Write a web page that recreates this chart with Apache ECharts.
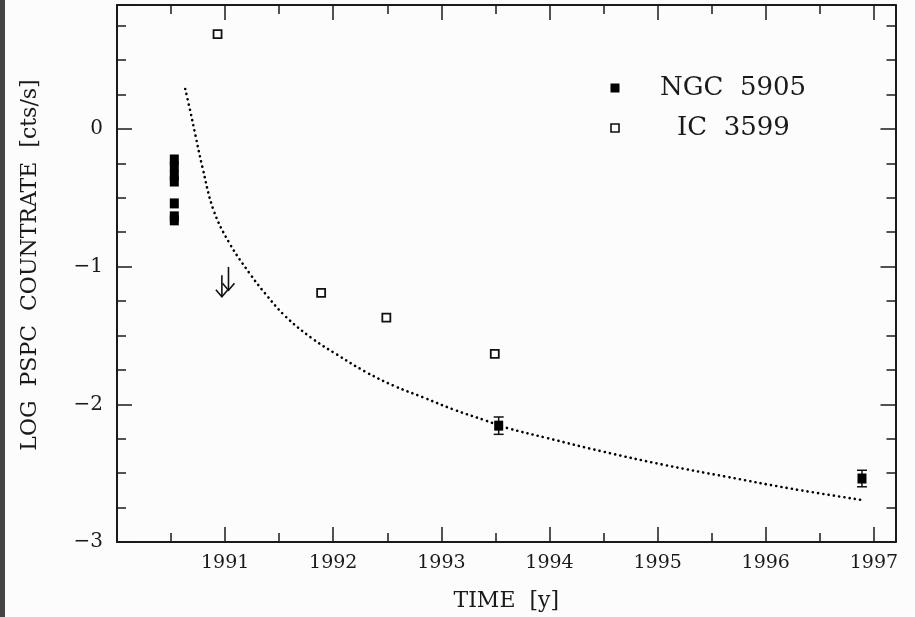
<!DOCTYPE html>
<html>
<head>
<meta charset="utf-8">
<script src="https://cdn.jsdelivr.net/npm/echarts@6/dist/echarts.min.js"></script>
<style>
html,body{margin:0;padding:0;background:#fcfcfc;}
#chart{width:915px;height:617px;}
</style>
</head>
<body>
<div id="chart"></div>
<script>
// ---- data ----
const xTicks = [1991, 1992, 1993, 1994, 1995, 1996, 1997];
const yTicks = [-3, -2, -1, 0];

// NGC 5905 detections (time [y], log countrate)
const ngcTimes  = [1990.53, 1990.53, 1990.53, 1990.53, 1990.53, 1990.53, 1990.53, 1993.53, 1996.89];
const ngcValues = [-0.222, -0.273, -0.338, -0.382, -0.541, -0.635, -0.664, -2.155, -2.539];

// NGC 5905 points carrying error bars
const errTimes  = [1993.53, 1996.89];
const errValues = [-2.155, -2.539];
const errSizes  = [0.063, 0.06];

// IC 3599 (open squares)
const icTimes  = [1990.93, 1991.888, 1992.491, 1993.494];
const icValues = [0.688, -1.19, -1.371, -1.634];

// Upper limits (arrows): time, top of shaft, arrow tip
const ulTimes = [1990.970, 1991.031];
const ulTops  = [-1.062, -1.002];
const ulTips  = [-1.219, -1.171];

// model decay curve (dotted)
const modelTimes  = [1990.631, 1990.677, 1990.725, 1990.790, 1990.893, 1991.040, 1991.232, 1991.370, 1991.555, 1991.802, 1992.033, 1992.294, 1992.562, 1992.833, 1993.116, 1993.403, 1993.609, 1993.973, 1994.481, 1995.066, 1995.636, 1996.237, 1996.898];
const modelValues = [0.290, 0.132, -0.045, -0.278, -0.590, -0.830, -1.055, -1.195, -1.359, -1.520, -1.638, -1.762, -1.866, -1.950, -2.039, -2.116, -2.172, -2.244, -2.341, -2.441, -2.526, -2.613, -2.696];

const legendNames = ['NGC 5905', 'IC 3599'];

// ---- chart ----
const INK = '#1a1a1a';
const FONT = '"DejaVu Serif", "Liberation Serif", serif';
const XMIN = 1990, XMAX = 1997.2, YMIN = -3, YMAX = 0.9;

const isInt = v => Math.abs(v - Math.round(v)) < 1e-6;
const zip = (a, b) => a.map((v, i) => [v, b[i]]);

function xAxisCfg(pos, major) {
  return {
    type: 'value', position: pos, min: XMIN, max: XMAX,
    interval: major ? 1 : 0.5,
    axisLine: { show: major, onZero: false, lineStyle: { color: INK, width: 2 } },
    axisTick: { show: true, inside: true, length: major ? 15 : 9, lineStyle: { color: INK, width: 1.5 } },
    axisLabel: {
      show: major && pos === 'bottom', margin: 12,
      fontFamily: FONT, fontSize: 19, color: INK,
      formatter: v => (isInt(v) && xTicks.indexOf(Math.round(v)) >= 0) ? String(Math.round(v)) : ''
    },
    splitLine: { show: false },
    name: (major && pos === 'bottom') ? 'TIME  [y]' : '',
    nameLocation: 'middle', nameGap: 48,
    nameTextStyle: { fontFamily: FONT, fontSize: 22, color: INK }
  };
}
function yAxisCfg(pos, major) {
  return {
    type: 'value', position: pos, min: YMIN, max: YMAX,
    interval: major ? 1 : 0.25,
    axisLine: { show: major, onZero: false, lineStyle: { color: INK, width: 2 } },
    axisTick: { show: true, inside: true, length: major ? 15 : 9, lineStyle: { color: INK, width: 1.5 } },
    axisLabel: {
      show: major && pos === 'left', margin: 14,
      fontFamily: FONT, fontSize: 20, color: INK,
      formatter: v => (isInt(v) && yTicks.indexOf(Math.round(v)) >= 0) ? String(Math.round(v)).replace('-', '\u2212') : ''
    },
    splitLine: { show: false }
  };
}

const chart = echarts.init(document.getElementById('chart'), null, { renderer: 'canvas' });

chart.setOption({
  backgroundColor: '#fcfcfc',
  animation: false,
  grid: { left: 117, right: 19.5, top: 5, bottom: 74, containLabel: false },
  xAxis: [xAxisCfg('bottom', true), xAxisCfg('bottom', false), xAxisCfg('top', true), xAxisCfg('top', false)],
  yAxis: [yAxisCfg('left', true), yAxisCfg('left', false), yAxisCfg('right', true), yAxisCfg('right', false)],
  graphic: [
    { type: 'rect', left: 0, top: 0, shape: { width: 5, height: 617 }, style: { fill: '#444' }, z: 100 },
    { type: 'text', x: 30, y: 265, rotation: Math.PI / 2,
      style: { text: 'LOG  PSPC  COUNTRATE  [cts/s]', font: '22px ' + FONT, fill: INK, align: 'center', verticalAlign: 'middle' } },
    { type: 'rect', shape: { x: 610.5, y: 83.5, width: 9, height: 9 }, style: { fill: '#000' } },
    { type: 'text', x: 660, y: 88,
      style: { text: legendNames[0].replace(' ', '  '), font: '26px ' + FONT, fill: INK, verticalAlign: 'middle' } },
    { type: 'rect', shape: { x: 611, y: 124, width: 8, height: 8 }, style: { fill: '#fff', stroke: '#111', lineWidth: 1.6 } },
    { type: 'text', x: 677, y: 128,
      style: { text: legendNames[1].replace(' ', '  '), font: '26px ' + FONT, fill: INK, verticalAlign: 'middle' } }
  ],
  series: [
    {
      name: 'model', type: 'line', xAxisIndex: 0, yAxisIndex: 0,
      data: zip(modelTimes, modelValues), smooth: 0.4, showSymbol: false, symbol: 'none',
      lineStyle: { color: '#000', width: 2.6, type: [0.1, 5.2], cap: 'round' }, z: 2
    },
    {
      name: legendNames[0], type: 'scatter', xAxisIndex: 0, yAxisIndex: 0,
      data: zip(ngcTimes, ngcValues), symbol: 'rect', symbolSize: [9, 10],
      itemStyle: { color: '#000', opacity: 1 }, z: 4
    },
    {
      name: legendNames[1], type: 'scatter', xAxisIndex: 0, yAxisIndex: 0,
      data: zip(icTimes, icValues), symbol: 'rect', symbolSize: 8,
      itemStyle: { color: '#fff', borderColor: '#111', borderWidth: 1.8, opacity: 1 }, z: 4
    },
    {
      name: 'errors', type: 'custom', xAxisIndex: 0, yAxisIndex: 0,
      data: errTimes.map((t, i) => [t, errValues[i], errSizes[i]]),
      encode: { x: 0, y: 1 },
      renderItem: (params, api) => {
        const t = api.value(0), v = api.value(1), e = api.value(2);
        const hi = api.coord([t, v + e]), lo = api.coord([t, v - e]);
        const w = 5;
        const st = { stroke: '#111', lineWidth: 1.5 };
        return { type: 'group', children: [
          { type: 'line', shape: { x1: hi[0], y1: hi[1], x2: lo[0], y2: lo[1] }, style: st },
          { type: 'line', shape: { x1: hi[0] - w, y1: hi[1], x2: hi[0] + w, y2: hi[1] }, style: st },
          { type: 'line', shape: { x1: lo[0] - w, y1: lo[1], x2: lo[0] + w, y2: lo[1] }, style: st }
        ]};
      }, z: 3
    },
    {
      name: 'upper limits', type: 'custom', xAxisIndex: 0, yAxisIndex: 0,
      data: ulTimes.map((t, i) => [t, ulTops[i], ulTips[i]]),
      encode: { x: 0, y: [1, 2] },
      renderItem: (params, api) => {
        const t = api.value(0);
        const top = api.coord([t, api.value(1)]), tip = api.coord([t, api.value(2)]);
        const st = { stroke: '#111', lineWidth: 1.6, fill: null };
        return { type: 'group', children: [
          { type: 'line', shape: { x1: top[0], y1: top[1], x2: tip[0], y2: tip[1] }, style: st },
          { type: 'polyline', shape: { points: [[tip[0] - 6, tip[1] - 7], [tip[0], tip[1]], [tip[0] + 6, tip[1] - 7]] }, style: st }
        ]};
      }, z: 3
    }
  ]
});
</script>
</body>
</html>
